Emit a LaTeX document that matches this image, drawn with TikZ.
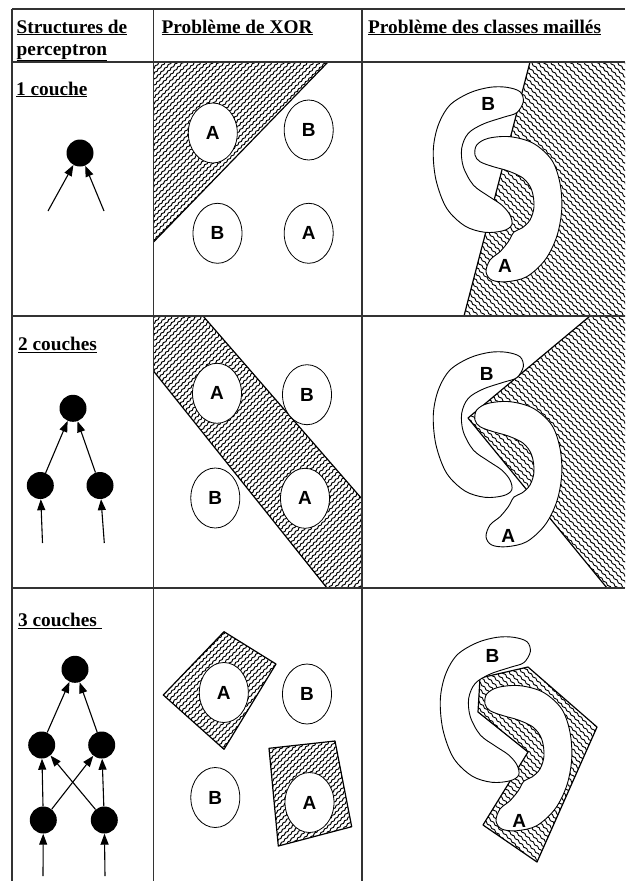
\documentclass[tikz,border=0pt]{standalone}
\usepackage{fontspec}
\setmainfont{Liberation Serif}
\newfontfamily\lblfont{Liberation Sans}
\usetikzlibrary{arrows.meta,shapes.geometric,patterns.meta}
\tikzdeclarepattern{
  name=wavyNE,
  type=uncolored,
  bottom left={(-0.5pt,-2.1pt)},
  top right={(5.5pt,2.1pt)},
  tile size={(5pt,4.2pt)},
  tile transformation={rotate=45},
  code={\draw[line width=0.95pt,line cap=round] (0pt,0pt) sin (1.25pt,0.6pt) cos (2.5pt,0pt) sin (3.75pt,-0.6pt) cos (5pt,0pt);}
}
\tikzdeclarepattern{
  name=wavyNW,
  type=uncolored,
  bottom left={(-0.5pt,-2.4pt)},
  top right={(6.5pt,2.4pt)},
  tile size={(6pt,4.7pt)},
  tile transformation={rotate=-45},
  code={\draw[line width=0.9pt,line cap=round] (0pt,0pt) sin (1.5pt,0.65pt) cos (3pt,0pt) sin (4.5pt,-0.65pt) cos (6pt,0pt);}
}
\newcommand\drawAblob{\draw[blob] plot[smooth cycle, tension=0.55] coordinates {(475,155) (476.7,145) (488.3,138.3) (510,136.7) (533.3,143.3) (551.7,160) (560,183.3) (561.7,210) (556.7,236.7) (545,260) (526.7,276.7) (506.7,281.7) (491.7,280) (486,271.7) (490,260) (500,251.7) (508.3,241.7) (514,232) (522,228) (530,220) (534,206.7) (531.7,190) (523.3,178.3) (508.3,171) (493.3,166.7) (480,161.7)};}
\newcommand\drawBblob{\draw[blob] plot[smooth cycle, tension=0.55] coordinates {(523.3,101.7) (520,91.7) (506.7,87.3) (490,87.3) (470,92.7) (450,105) (438.3,125) (433.3,150) (436,180) (446.7,208.3) (465,226) (485,232.3) (503.3,230.7) (511.7,225) (510,215) (501.7,205) (488.3,196) (473.3,185) (463.3,166.7) (461.7,148.3) (468.3,133.3) (483.3,124) (503.3,117.3) (516.7,112.7)};}
\begin{document}
\begin{tikzpicture}[x=1pt,y=-1pt,
  grid/.style={line width=1.6pt, black!80},
  hdr/.style={anchor=base west, inner sep=0pt, font=\fontsize{19.3}{22}\selectfont\bfseries},
  neuron/.style={circle, fill=black, minimum size=27pt, inner sep=0pt},
  arr/.style={-{Triangle[length=11pt,width=8pt]}, line width=1.1pt},
  xorell/.style={ellipse, draw, line width=0.8pt, fill=white, minimum width=49pt, minimum height=60pt, inner sep=0pt, font=\lblfont\bfseries\fontsize{19}{19}\selectfont},
  blob/.style={draw, line width=0.9pt, fill=white},
  blbl/.style={inner sep=0pt, font=\lblfont\bfseries\fontsize{19}{19}\selectfont},
  hatchA/.style={pattern=wavyNE, pattern color=black},
  hatchB/.style={pattern=wavyNW, pattern color=black},
  bound/.style={line width=1.2pt, line join=round},
]
\useasboundingbox (0,0) rectangle (625,881);
\fill[white] (0,0) rectangle (625,881);

% ---------- XOR column ----------
\fill[hatchA] (153.5,62) -- (328,62) -- (153.5,242) -- cycle;
\draw[bound] (328,62) -- (153.5,242);

\fill[hatchA] (153.5,316) -- (203,316) -- (362,499) -- (362,588) -- (327,588) -- (153.5,371) -- cycle;
\draw[bound] (203,316) -- (362,499);
\draw[bound] (153.5,371) -- (327,588);

\filldraw[hatchA, bound] (224,631.7) -- (276,664) -- (224,749.3) -- (163.3,695) -- cycle;
\filldraw[hatchA, bound] (269,748.3) -- (335,741) -- (351.7,826.7) -- (278.3,846) -- cycle;

\node[xorell] (xa11) at (212.8,133) {A};
\node[xorell] (xb12) at (308.7,130) {B};
\node[xorell] (xb13) at (217.5,233.3) {B};
\node[xorell] (xa14) at (308.7,233.3) {A};

\node[xorell] (xa21) at (217,393.3) {A};
\node[xorell] (xb22) at (307,394.7) {B};
\node[xorell] (xb23) at (215.3,498) {B};
\node[xorell] (xa24) at (305,498.3) {A};

\node[xorell] (xa31) at (223.8,692.5) {A};
\node[xorell] (xb32) at (307,694) {B};
\node[xorell] (xb33) at (215.3,797.5) {B};
\node[xorell] (xa34) at (309.5,802.5) {A};

% ---------- meshed classes column ----------
\fill[hatchB] (530,62) -- (625,62) -- (625,316) -- (464,316) -- cycle;
\draw[bound] (530,62) -- (464,316);
\drawAblob
\drawBblob
\node[blbl] (cb1) at (488.3,104) {B};
\node[blbl] (ca1) at (505,265.7) {A};

\fill[hatchB] (590,316) -- (625,316) -- (625,588) -- (607,588) -- (468,418) -- cycle;
\draw[bound] (590,316) -- (468,418) -- (607,588);
\begin{scope}[shift={(0,265)}]
  \drawAblob
  \drawBblob
\end{scope}
\node[blbl] (cb2) at (486.7,374) {B};
\node[blbl] (ca2) at (508.3,535.7) {A};

\filldraw[hatchB, bound] (528,667) -- (597,727) -- (537,862) -- (483,825) -- (528,752) -- (478,712) -- (480,678) -- cycle;
\begin{scope}[shift={(10,549)}]
  \drawAblob
\end{scope}
\begin{scope}[shift={(7,550)}]
  \drawBblob
\end{scope}
\node[blbl] (cb3) at (492.5,655.5) {B};
\node[blbl] (ca3) at (519.2,820.8) {A};

% ---------- perceptrons ----------
\node[neuron] (n11) at (80,153) {};
\coordinate (i11) at (48,211);
\coordinate (i12) at (104,211);
\draw[arr] (i11) -- (n11);
\draw[arr] (i12) -- (n11);

\node[neuron] (n21) at (73,408.3) {};
\node[neuron] (b21) at (40.3,485.5) {};
\node[neuron] (b22) at (100,485.5) {};
\coordinate (i21) at (42.5,543);
\coordinate (i22) at (104.3,543);
\draw[arr] (b21) -- (n21);
\draw[arr] (b22) -- (n21);
\draw[arr] (i21) -- (b21);
\draw[arr] (i22) -- (b22);

\node[neuron] (n31) at (75,669.3) {};
\node[neuron] (m31) at (41.7,745) {};
\node[neuron] (m32) at (101.7,745) {};
\node[neuron] (b31) at (43.3,820) {};
\node[neuron] (b32) at (104.3,820) {};
\coordinate (i31) at (43,876);
\coordinate (i32) at (105,876);
\draw[arr] (m31) -- (n31);
\draw[arr] (m32) -- (n31);
\draw[arr] (b31) -- (m31);
\draw[arr] (b32) -- (m32);
\draw[arr] (b31) -- (m32);
\draw[arr] (b32) -- (m31);
\draw[arr] (i31) -- (b31);
\draw[arr] (i32) -- (b32);

% ---------- table grid ----------
\draw[grid] (12,9) -- (625,9);
\draw[grid] (12,62) -- (625,62);
\draw[grid] (12,316) -- (625,316);
\draw[grid] (12,588) -- (625,588);
\draw[grid] (12,9) -- (12,881);
\draw[grid] (153.5,9) -- (153.5,881);
\draw[grid] (362,9) -- (362,881);

% ---------- texts ----------
\node[hdr] (h1) at (16.5,33) {\underline{Structures de}};
\node[hdr] (h2) at (16.5,55) {\underline{perceptron}};
\node[hdr] (h3) at (161.5,33) {\underline{Problème de XOR}};
\node[hdr] (h4) at (368,33) {\underline{Problème des classes maillés}};
\node[hdr] (r1) at (16,95) {\underline{1 couche}};
\node[hdr] (r2) at (18,350.5) {\underline{2 couches}};
\node[hdr] (r3) at (18,626.5) {\underline{3 couches~}};
\end{tikzpicture}
\end{document}
